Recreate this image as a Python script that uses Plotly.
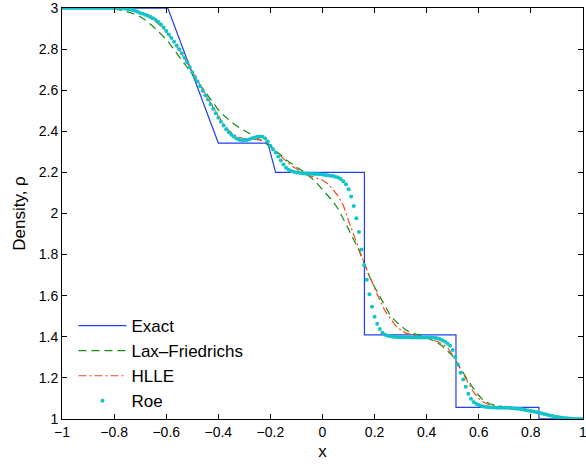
import plotly.graph_objects as go

# ---------------- data ----------------
# Exact solution (piecewise)
exact_x = [-1.0, -0.594, -0.40, -0.21, -0.18, 0.161, 0.161, 0.5125, 0.5125, 0.831, 0.831, 1.0]
exact_y = [3.0, 3.0, 2.343, 2.343, 2.2, 2.2, 1.409, 1.409, 1.056, 1.056, 1.0, 1.0]

# Roe scheme, cell values on a 0.01 grid from -1 to 1
roe_x = [round(-1 + 0.01 * i, 2) for i in range(201)]
roe_y = (
    [3.000] * 23
    + [2.999, 2.998, 2.996, 2.994, 2.991, 2.987, 2.982, 2.976]
    + [2.972, 2.967, 2.962, 2.957, 2.950, 2.942, 2.932, 2.920, 2.905, 2.888]
    + [2.871, 2.854, 2.836, 2.818, 2.800, 2.780, 2.758, 2.736, 2.712, 2.688]
    + [2.665, 2.643, 2.620, 2.598, 2.576, 2.555, 2.532, 2.510, 2.488, 2.466]
    + [2.447, 2.428, 2.410, 2.395, 2.383, 2.373, 2.365, 2.359, 2.356, 2.356]
    + [2.358, 2.362, 2.366, 2.370, 2.373, 2.375, 2.373, 2.365, 2.350, 2.330]
    + [2.313, 2.297, 2.278, 2.258, 2.238, 2.223, 2.213, 2.207, 2.203, 2.200]
    + [2.198, 2.196, 2.195, 2.194, 2.193, 2.193, 2.192, 2.192, 2.191, 2.190]
    + [2.188, 2.186, 2.184, 2.182, 2.179, 2.175, 2.168, 2.157, 2.142, 2.118]
    + [2.083, 2.037, 1.977, 1.910, 1.825, 1.748, 1.678, 1.607, 1.546, 1.497]
    + [1.463, 1.438, 1.420, 1.410, 1.405, 1.402, 1.400, 1.399, 1.398, 1.398]
    + [1.398, 1.398, 1.398, 1.397, 1.397, 1.397, 1.397, 1.397, 1.397, 1.397]
    + [1.397, 1.396, 1.395, 1.393, 1.389, 1.383, 1.377, 1.367, 1.356, 1.336]
    + [1.302, 1.265, 1.225, 1.192, 1.157, 1.123, 1.098, 1.082, 1.074, 1.068]
    + [1.063, 1.060, 1.058, 1.057, 1.056, 1.056, 1.055, 1.055, 1.054, 1.054]
    + [1.054, 1.053, 1.052, 1.051, 1.050, 1.048, 1.046, 1.044, 1.041, 1.039]
    + [1.036, 1.034, 1.031, 1.028, 1.024, 1.021, 1.018, 1.015, 1.012, 1.010]
    + [1.008, 1.006, 1.004, 1.003, 1.002, 1.001, 1.000, 1.000, 1.000, 1.000]
)

# Lax-Friedrichs and HLLE on a 0.02 grid
coarse_x = [round(-1 + 0.02 * i, 2) for i in range(101)]
lf_y = (
    [3.000] * 8
    + [2.999, 2.998, 2.996, 2.992, 2.986, 2.979, 2.970, 2.958, 2.942, 2.922]
    + [2.899, 2.873, 2.847, 2.815, 2.780, 2.746, 2.712, 2.680, 2.643, 2.605]
    + [2.570, 2.536, 2.505, 2.478, 2.455, 2.436, 2.419, 2.403, 2.388, 2.372]
    + [2.359, 2.344, 2.325, 2.305, 2.285, 2.262, 2.242, 2.226, 2.210, 2.192]
    + [2.170, 2.145, 2.118, 2.090, 2.059, 2.022, 1.976, 1.924, 1.872, 1.820]
    + [1.757, 1.694, 1.642, 1.597, 1.545, 1.505, 1.476, 1.455, 1.433, 1.419]
    + [1.410, 1.404, 1.396, 1.385, 1.372, 1.355, 1.333, 1.307, 1.266, 1.224]
    + [1.185, 1.148, 1.114, 1.088, 1.075, 1.068, 1.062, 1.058, 1.054, 1.050]
    + [1.046, 1.042, 1.038, 1.034, 1.029, 1.024, 1.018, 1.012, 1.008, 1.004]
    + [1.002, 1.001, 1.000]
)
hlle_y = (
    [3.000] * 11
    + [2.999, 2.997, 2.993, 2.987, 2.978, 2.966, 2.951, 2.933, 2.911, 2.885]
    + [2.852, 2.815, 2.776, 2.734, 2.690, 2.645, 2.600, 2.556, 2.513, 2.474]
    + [2.437, 2.405, 2.384, 2.371, 2.364, 2.362, 2.361, 2.358, 2.350, 2.333]
    + [2.303, 2.277, 2.255, 2.234, 2.216, 2.201, 2.189, 2.180, 2.172, 2.162]
    + [2.145, 2.118, 2.084, 2.040, 1.965, 1.894, 1.823, 1.758, 1.697, 1.636]
    + [1.578, 1.527, 1.488, 1.455, 1.433, 1.418, 1.411, 1.405, 1.399, 1.393]
    + [1.386, 1.378, 1.364, 1.348, 1.310, 1.264, 1.217, 1.170, 1.130, 1.100]
    + [1.080, 1.070, 1.063, 1.059, 1.056, 1.054, 1.051, 1.048, 1.044, 1.040]
    + [1.035, 1.030, 1.024, 1.018, 1.012, 1.008, 1.004, 1.002, 1.001, 1.000]
)

x_ticks = [-1, -0.8, -0.6, -0.4, -0.2, 0, 0.2, 0.4, 0.6, 0.8, 1]
x_labels = ["\u22121", "\u22120.8", "\u22120.6", "\u22120.4", "\u22120.2", "0",
            "0.2", "0.4", "0.6", "0.8", "1"]
y_ticks = [1, 1.2, 1.4, 1.6, 1.8, 2, 2.2, 2.4, 2.6, 2.8, 3]
y_labels = ["1", "1.2", "1.4", "1.6", "1.8", "2", "2.2", "2.4", "2.6", "2.8", "3"]

FONT = "Liberation Sans, Arial, Helvetica, sans-serif"

fig = go.Figure()
fig.add_trace(go.Scatter(x=exact_x, y=exact_y, mode="lines", name="Exact",
                         line=dict(color="#2040F0", width=1.2)))
fig.add_trace(go.Scatter(x=coarse_x, y=lf_y, mode="lines", name="Lax\u2013Friedrichs",
                         line=dict(color="#109010", width=1.2, dash="8px,5px")))
fig.add_trace(go.Scatter(x=coarse_x, y=hlle_y, mode="lines", name="HLLE",
                         line=dict(color="#F04828", width=1.2, dash="8px,3px,2px,3px")))
fig.add_trace(go.Scatter(x=roe_x, y=roe_y, mode="markers", name="Roe",
                         marker=dict(color="#10C4C8", size=4, line=dict(width=0))))

axis_common = dict(
    showline=True, linecolor="black", linewidth=1, mirror="ticks",
    ticks="inside", ticklen=5, tickcolor="black", tickwidth=1,
    showgrid=False, zeroline=False, ticklabeloverflow="allow", automargin=False,
    tickfont=dict(family=FONT, size=14, color="black"),
)

fig.update_layout(
    width=586, height=468,
    margin=dict(l=62, r=3, t=8, b=49),
    paper_bgcolor="white", plot_bgcolor="white",
    font=dict(family=FONT, color="black"),
    showlegend=True,
    legend=dict(x=0.022, y=0.0, xanchor="left", yanchor="bottom",
                bgcolor="rgba(0,0,0,0)", font=dict(family=FONT, size=17, color="black"),
                itemwidth=48, tracegroupgap=0),
    xaxis=dict(range=[-1.0003, 1.0003], tickvals=x_ticks, ticktext=x_labels,
               title=dict(text="x", font=dict(family=FONT, size=17), standoff=6),
               **axis_common),
    yaxis=dict(range=[0.9997, 3.0003], tickvals=y_ticks, ticktext=y_labels,
               title=dict(text="Density, \u03c1", font=dict(family=FONT, size=17), standoff=8),
               **axis_common),
)

fig.write_html("out.html")
